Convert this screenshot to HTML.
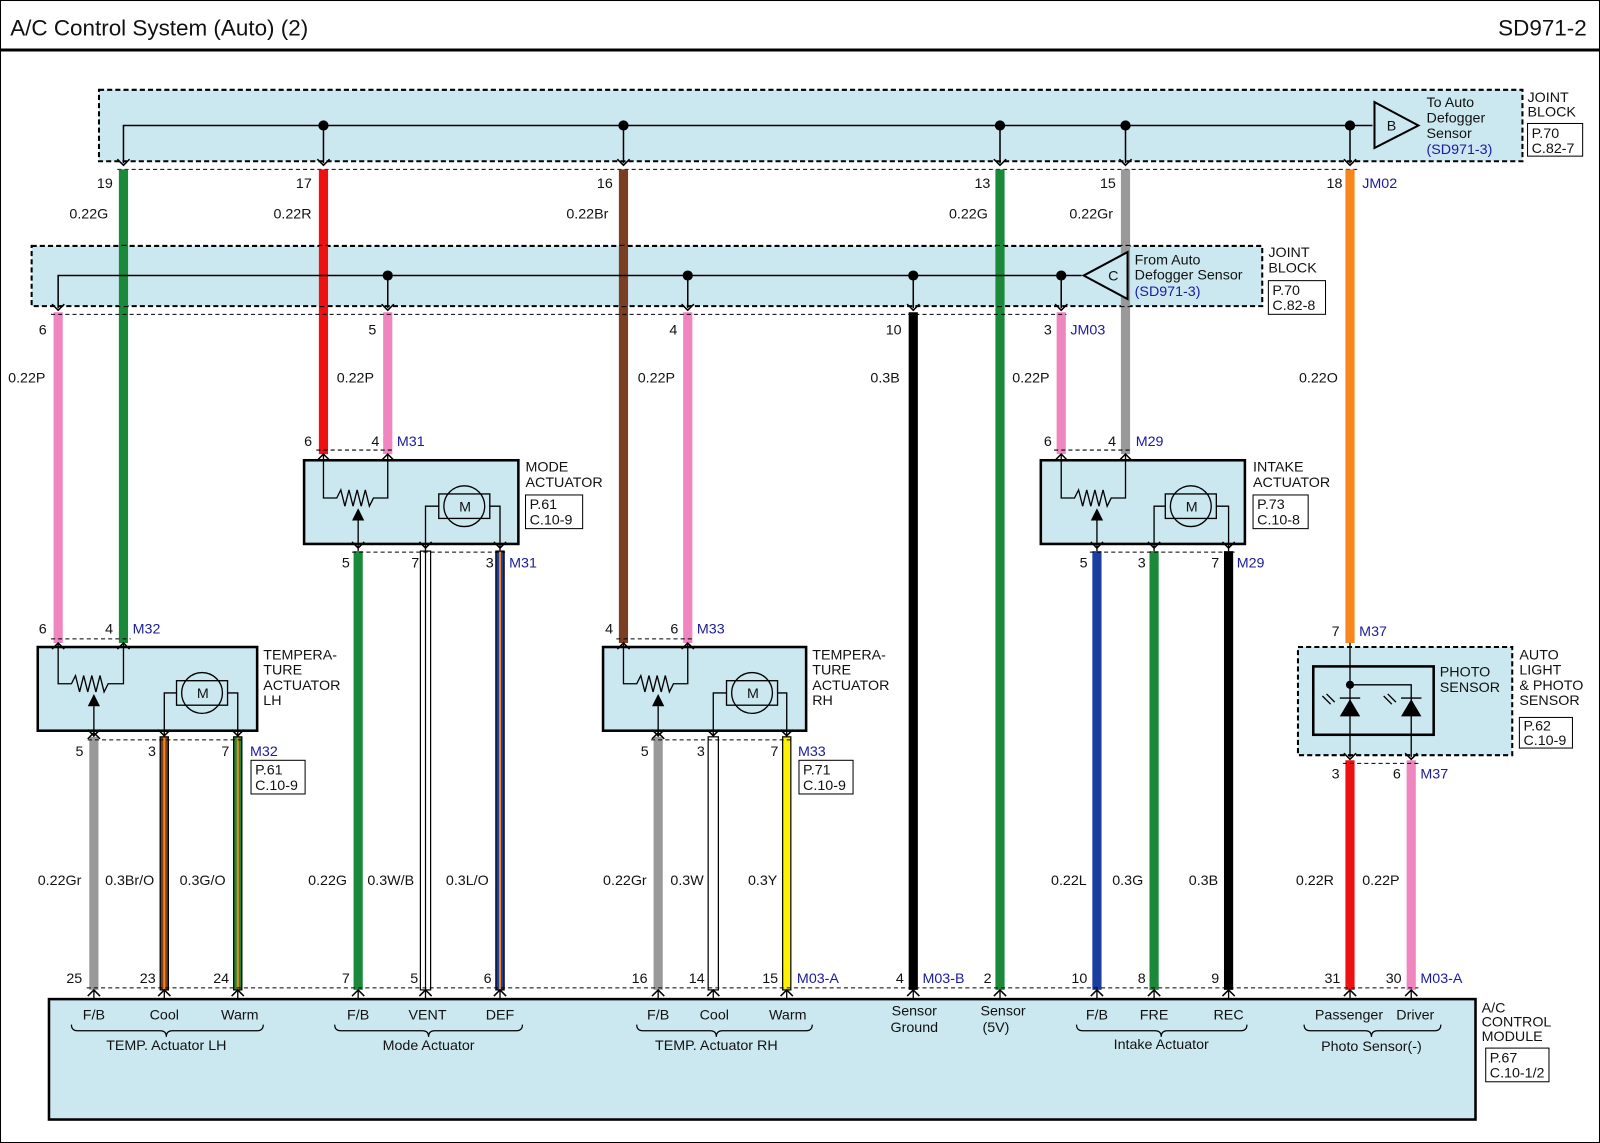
<!DOCTYPE html>
<html><head><meta charset="utf-8"><style>
html,body{margin:0;padding:0;background:#fff}
svg{display:block}
text{font-family:"Liberation Sans",sans-serif;font-size:14px;fill:#111}
.b{fill:#1a1aa0}
.blk{fill:#cbe8f0}
</style></head><body>
<svg width="1600" height="1143" viewBox="0 0 1568 1120" preserveAspectRatio="none" xmlns="http://www.w3.org/2000/svg">
<defs>
<path id="up" d="M-6,6 L0,0 L6,6" fill="none" stroke="#000" stroke-width="1.5"/>
<path id="dn" d="M-6,-6 L0,0 L6,-6" fill="none" stroke="#000" stroke-width="1.5"/>
</defs>
<rect x="0.5" y="0.5" width="1567" height="1119" fill="#fff" stroke="#000"/>
<text x="10" y="35" style="font-size:22px">A/C Control System (Auto) (2)</text>
<text x="1555" y="35" text-anchor="end" style="font-size:22px">SD971-2</text>
<line x1="0" y1="49" x2="1568" y2="49" stroke="#000" stroke-width="3"/>

<!-- Joint block top -->
<rect x="97" y="88" width="1395" height="70" class="blk" stroke="#000" stroke-width="2" stroke-dasharray="5,3"/>
<polyline points="121,160 121,123 1345,123" fill="none" stroke="#000" stroke-width="1.5"/>
<g stroke="#000" stroke-width="1.5">
<line x1="317" y1="123" x2="317" y2="160"/><line x1="611" y1="123" x2="611" y2="160"/>
<line x1="980" y1="123" x2="980" y2="160"/><line x1="1103" y1="123" x2="1103" y2="160"/>
<line x1="1323" y1="123" x2="1323" y2="160"/></g>
<g fill="#000"><circle cx="317" cy="123" r="5"/><circle cx="611" cy="123" r="5"/><circle cx="980" cy="123" r="5"/><circle cx="1103" cy="123" r="5"/><circle cx="1323" cy="123" r="5"/></g>
<polygon points="1347,100 1347,145 1390,123" fill="#cbe8f0" stroke="#000" stroke-width="2"/>
<text x="1359" y="128">B</text>
<text x="1398" y="105">To Auto</text><text x="1398" y="120">Defogger</text><text x="1398" y="135">Sensor</text><text x="1398" y="151" class="b">(SD971-3)</text>
<text x="1497" y="100">JOINT</text><text x="1497" y="114">BLOCK</text>
<rect x="1497" y="121" width="54" height="32" fill="#fff" stroke="#000"/>
<text x="1501" y="135">P.70</text><text x="1501" y="150">C.82-7</text>
<line x1="115" y1="166" x2="1330" y2="166" stroke="#000" stroke-dasharray="4,3"/>
<g><use href="#dn" x="121" y="162"/><use href="#dn" x="317" y="162"/><use href="#dn" x="611" y="162"/><use href="#dn" x="980" y="162"/><use href="#dn" x="1103" y="162"/><use href="#dn" x="1323" y="162"/></g>
<text x="95" y="184">19</text><text x="290" y="184">17</text><text x="585" y="184">16</text><text x="955" y="184">13</text><text x="1078" y="184">15</text><text x="1300" y="184">18</text><text x="1335" y="184" class="b">JM02</text>
<text x="68" y="214">0.22G</text><text x="268" y="214">0.22R</text><text x="555" y="214">0.22Br</text><text x="930" y="214">0.22G</text><text x="1048" y="214">0.22Gr</text>

<!-- wires -->
<g stroke-width="9">
<line x1="121" y1="166" x2="121" y2="630" stroke="#1a8a3a"/>
<line x1="317" y1="166" x2="317" y2="445" stroke="#ee1111"/>
<line x1="611" y1="166" x2="611" y2="630" stroke="#7a3e22"/>
<line x1="980" y1="166" x2="980" y2="970" stroke="#1a8a3a"/>
<line x1="1103" y1="166" x2="1103" y2="445" stroke="#999"/>
<line x1="1323" y1="166" x2="1323" y2="630" stroke="#f7861c"/>
<line x1="57" y1="306" x2="57" y2="630" stroke="#ef86c0"/>
<line x1="380" y1="306" x2="380" y2="445" stroke="#ef86c0"/>
<line x1="674" y1="306" x2="674" y2="630" stroke="#ef86c0"/>
<line x1="895" y1="306" x2="895" y2="970" stroke="#000"/>
<line x1="1040" y1="306" x2="1040" y2="445" stroke="#ef86c0"/>
<line x1="351" y1="540" x2="351" y2="970" stroke="#1a8a3a"/>
<line x1="490" y1="540" x2="490" y2="970" stroke="#1a3f9e"/>
<line x1="1075" y1="540" x2="1075" y2="970" stroke="#1a3f9e"/>
<line x1="1131" y1="540" x2="1131" y2="970" stroke="#1a8a3a"/>
<line x1="1204" y1="540" x2="1204" y2="970" stroke="#000"/>
<line x1="92" y1="722" x2="92" y2="970" stroke="#999"/>
<line x1="161" y1="722" x2="161" y2="970" stroke="#7a3e22"/>
<line x1="233" y1="722" x2="233" y2="970" stroke="#1a8a3a"/>
<line x1="645" y1="722" x2="645" y2="970" stroke="#999"/>
<line x1="771" y1="722" x2="771" y2="970" stroke="#fff200"/>
<line x1="1323" y1="745" x2="1323" y2="970" stroke="#ee1111"/>
<line x1="1383" y1="745" x2="1383" y2="970" stroke="#ef86c0"/>
</g>
<g stroke-width="2"><line x1="161" y1="722" x2="161" y2="970" stroke="#f7861c"/><line x1="233" y1="722" x2="233" y2="970" stroke="#f7861c"/><line x1="490" y1="540" x2="490" y2="970" stroke="#f7861c"/></g>
<g stroke="#000" stroke-width="1.2" fill="none">
<rect x="412" y="540" width="10" height="430" fill="#fff"/><line x1="417" y1="540" x2="417" y2="970"/>
<rect x="694" y="722" width="10" height="248" fill="#fff"/>
<rect x="486" y="540" width="8" height="430"/><rect x="157" y="722" width="8" height="248"/><rect x="229" y="722" width="8" height="248"/><rect x="767" y="722" width="8" height="248"/>
</g>

<!-- Joint block 2 -->
<rect x="31" y="241" width="1206" height="59" class="blk" stroke="#000" stroke-width="2" stroke-dasharray="5,3"/>
<g stroke-width="9"><line x1="121" y1="241" x2="121" y2="300" stroke="#1a8a3a"/><line x1="317" y1="241" x2="317" y2="300" stroke="#ee1111"/><line x1="611" y1="241" x2="611" y2="300" stroke="#7a3e22"/><line x1="980" y1="241" x2="980" y2="300" stroke="#1a8a3a"/><line x1="1103" y1="241" x2="1103" y2="300" stroke="#999"/></g>
<polyline points="57,302 57,270 1060,270" fill="none" stroke="#000" stroke-width="1.5"/>
<g stroke="#000" stroke-width="1.5"><line x1="380" y1="270" x2="380" y2="302"/><line x1="674" y1="270" x2="674" y2="302"/><line x1="895" y1="270" x2="895" y2="302"/><line x1="1040" y1="270" x2="1040" y2="302"/></g>
<g fill="#000"><circle cx="380" cy="270" r="5"/><circle cx="674" cy="270" r="5"/><circle cx="895" cy="270" r="5"/><circle cx="1040" cy="270" r="5"/></g>
<polygon points="1105,247 1105,293 1062,270" fill="#cbe8f0" stroke="#000" stroke-width="2"/>
<text x="1086" y="275">C</text>
<text x="1112" y="259">From Auto</text><text x="1112" y="274">Defogger Sensor</text><text x="1112" y="290" class="b">(SD971-3)</text>
<text x="1243" y="252">JOINT</text><text x="1243" y="267">BLOCK</text>
<rect x="1243" y="275" width="56" height="33" fill="#fff" stroke="#000"/>
<text x="1247" y="289">P.70</text><text x="1247" y="304">C.82-8</text>
<line x1="50" y1="308" x2="1045" y2="308" stroke="#000" stroke-dasharray="4,3"/>
<g><use href="#dn" x="57" y="304"/><use href="#dn" x="380" y="304"/><use href="#dn" x="674" y="304"/><use href="#dn" x="895" y="304"/><use href="#dn" x="1040" y="304"/></g>
<text x="38" y="328">6</text><text x="361" y="328">5</text><text x="656" y="328">4</text><text x="868" y="328">10</text><text x="1023" y="328">3</text><text x="1049" y="328" class="b">JM03</text>
<text x="8" y="375">0.22P</text><text x="330" y="375">0.22P</text><text x="625" y="375">0.22P</text><text x="853" y="375">0.3B</text><text x="992" y="375">0.22P</text><text x="1273" y="375">0.22O</text>

<!-- Mode actuator -->
<line x1="310" y1="441" x2="387" y2="441" stroke="#000" stroke-dasharray="4,3"/>
<text x="298" y="437">6</text><text x="364" y="437">4</text><text x="389" y="437" class="b">M31</text>
<rect x="298" y="451" width="210" height="82" class="blk" stroke="#000" stroke-width="2.5"/>
<g stroke="#000" stroke-width="1.3" fill="none">
<use href="#up" x="317" y="445"/><use href="#up" x="380" y="445"/>
<polyline points="317,445 317,488 330,488 334,480 338,496 342,480 346,496 350,480 354,496 358,480 362,496 366,488 380,488 380,445"/>
<line x1="351" y1="510" x2="351" y2="540"/>
<circle cx="455" cy="496" r="20"/><rect x="430" y="484" width="50" height="24"/>
<polyline points="430,496 417,496 417,540"/><polyline points="480,496 490,496 490,540"/>
</g>
<polygon points="345,510 357,510 351,498" fill="#000"/>
<text x="450" y="501">M</text>
<g><use href="#dn" x="351" y="537"/><use href="#dn" x="417" y="537"/><use href="#dn" x="490" y="537"/></g>
<line x1="345" y1="541" x2="495" y2="541" stroke="#000" stroke-dasharray="4,3"/>
<text x="335" y="556">5</text><text x="403" y="556">7</text><text x="476" y="556">3</text><text x="499" y="556" class="b">M31</text>
<text x="515" y="462">MODE</text><text x="515" y="477">ACTUATOR</text>
<rect x="515" y="485" width="56" height="33" fill="#fff" stroke="#000"/><text x="519" y="499">P.61</text><text x="519" y="514">C.10-9</text>

<!-- Intake actuator -->
<line x1="1033" y1="441" x2="1110" y2="441" stroke="#000" stroke-dasharray="4,3"/>
<text x="1023" y="437">6</text><text x="1086" y="437">4</text><text x="1113" y="437" class="b">M29</text>
<rect x="1020" y="451" width="200" height="82" class="blk" stroke="#000" stroke-width="2.5"/>
<g stroke="#000" stroke-width="1.3" fill="none">
<use href="#up" x="1040" y="445"/><use href="#up" x="1103" y="445"/>
<polyline points="1040,445 1040,488 1053,488 1057,480 1061,496 1065,480 1069,496 1073,480 1077,496 1081,480 1085,496 1089,488 1103,488 1103,445"/>
<line x1="1075" y1="510" x2="1075" y2="540"/>
<circle cx="1167" cy="496" r="20"/><rect x="1142" y="484" width="50" height="24"/>
<polyline points="1142,496 1131,496 1131,540"/><polyline points="1192,496 1204,496 1204,540"/>
</g>
<polygon points="1069,510 1081,510 1075,498" fill="#000"/>
<text x="1162" y="501">M</text>
<g><use href="#dn" x="1075" y="537"/><use href="#dn" x="1131" y="537"/><use href="#dn" x="1204" y="537"/></g>
<line x1="1068" y1="541" x2="1210" y2="541" stroke="#000" stroke-dasharray="4,3"/>
<text x="1058" y="556">5</text><text x="1115" y="556">3</text><text x="1187" y="556">7</text><text x="1212" y="556" class="b">M29</text>
<text x="1228" y="462">INTAKE</text><text x="1228" y="477">ACTUATOR</text>
<rect x="1228" y="485" width="54" height="33" fill="#fff" stroke="#000"/><text x="1232" y="499">P.73</text><text x="1232" y="514">C.10-8</text>

<!-- Temp LH -->
<line x1="50" y1="626" x2="128" y2="626" stroke="#000" stroke-dasharray="4,3"/>
<text x="38" y="621">6</text><text x="103" y="621">4</text><text x="130" y="621" class="b">M32</text>
<rect x="37" y="634" width="215" height="82" class="blk" stroke="#000" stroke-width="2.5"/>
<g stroke="#000" stroke-width="1.3" fill="none">
<use href="#up" x="57" y="630"/><use href="#up" x="121" y="630"/>
<polyline points="57,630 57,670 70,670 74,662 78,678 82,662 86,678 90,662 94,678 98,662 102,678 106,670 121,670 121,630"/>
<line x1="92" y1="692" x2="92" y2="722"/>
<circle cx="198" cy="679" r="20"/><rect x="173" y="667" width="50" height="24"/>
<polyline points="173,679 161,679 161,722"/><polyline points="223,679 233,679 233,722"/>
</g>
<polygon points="86,692 98,692 92,680" fill="#000"/><use href="#up" x="92" y="718"/>
<text x="193" y="684">M</text>
<g><use href="#dn" x="92" y="721"/><use href="#dn" x="161" y="721"/><use href="#dn" x="233" y="721"/></g>
<line x1="86" y1="725" x2="240" y2="725" stroke="#000" stroke-dasharray="4,3"/>
<text x="74" y="741">5</text><text x="145" y="741">3</text><text x="217" y="741">7</text><text x="245" y="741" class="b">M32</text>
<text x="258" y="646">TEMPERA-</text><text x="258" y="661">TURE</text><text x="258" y="676">ACTUATOR</text><text x="258" y="691">LH</text>
<rect x="246" y="745" width="53" height="33" fill="#fff" stroke="#000"/><text x="250" y="759">P.61</text><text x="250" y="774">C.10-9</text>

<!-- Temp RH -->
<line x1="604" y1="626" x2="681" y2="626" stroke="#000" stroke-dasharray="4,3"/>
<text x="593" y="621">4</text><text x="657" y="621">6</text><text x="683" y="621" class="b">M33</text>
<rect x="591" y="634" width="199" height="82" class="blk" stroke="#000" stroke-width="2.5"/>
<g stroke="#000" stroke-width="1.3" fill="none">
<use href="#up" x="611" y="630"/><use href="#up" x="674" y="630"/>
<polyline points="611,630 611,670 624,670 628,662 632,678 636,662 640,678 644,662 648,678 652,662 656,678 660,670 674,670 674,630"/>
<line x1="645" y1="692" x2="645" y2="722"/>
<circle cx="737" cy="679" r="20"/><rect x="712" y="667" width="50" height="24"/>
<polyline points="712,679 699,679 699,722"/><polyline points="762,679 771,679 771,722"/>
</g>
<polygon points="639,692 651,692 645,680" fill="#000"/><use href="#up" x="645" y="718"/>
<text x="732" y="684">M</text>
<g><use href="#dn" x="645" y="721"/><use href="#dn" x="699" y="721"/><use href="#dn" x="771" y="721"/></g>
<line x1="638" y1="725" x2="778" y2="725" stroke="#000" stroke-dasharray="4,3"/>
<text x="628" y="741">5</text><text x="683" y="741">3</text><text x="755" y="741">7</text><text x="782" y="741" class="b">M33</text>
<text x="796" y="646">TEMPERA-</text><text x="796" y="661">TURE</text><text x="796" y="676">ACTUATOR</text><text x="796" y="691">RH</text>
<rect x="783" y="745" width="53" height="33" fill="#fff" stroke="#000"/><text x="787" y="759">P.71</text><text x="787" y="774">C.10-9</text>

<!-- Photo sensor -->
<text x="1305" y="623">7</text><text x="1332" y="623" class="b">M37</text>
<rect x="1272" y="634" width="210" height="106" class="blk" stroke="#000" stroke-width="2" stroke-dasharray="5,3"/>
<rect x="1287" y="653" width="118" height="67" class="blk" stroke="#000" stroke-width="2.5"/>
<g stroke="#000" stroke-width="1.3" fill="none">
<line x1="1323" y1="630" x2="1323" y2="742"/><polyline points="1323,671 1383,671 1383,742"/>
<line x1="1313" y1="684" x2="1333" y2="684"/><line x1="1373" y1="684" x2="1393" y2="684"/>
<path d="M1296,682 l8,8 M1300,680 l8,8 M1356,682 l8,8 M1360,680 l8,8"/>
</g>
<circle cx="1323" cy="671" r="4" fill="#000"/>
<polygon points="1313,702 1333,702 1323,685" fill="#000"/><polygon points="1373,702 1393,702 1383,685" fill="#000"/>
<text x="1411" y="663">PHOTO</text><text x="1411" y="678">SENSOR</text>
<g><use href="#dn" x="1323" y="744"/><use href="#dn" x="1383" y="744"/></g>
<line x1="1316" y1="748" x2="1390" y2="748" stroke="#000" stroke-dasharray="4,3"/>
<text x="1305" y="763">3</text><text x="1365" y="763">6</text><text x="1392" y="763" class="b">M37</text>
<text x="1489" y="646">AUTO</text><text x="1489" y="661">LIGHT</text><text x="1489" y="676">&amp; PHOTO</text><text x="1489" y="691">SENSOR</text>
<rect x="1489" y="703" width="52" height="30" fill="#fff" stroke="#000"/><text x="1493" y="716">P.62</text><text x="1493" y="730">C.10-9</text>

<!-- lower labels -->
<text x="37" y="867">0.22Gr</text><text x="103" y="867">0.3Br/O</text><text x="176" y="867">0.3G/O</text>
<text x="302" y="867">0.22G</text><text x="360" y="867">0.3W/B</text><text x="437" y="867">0.3L/O</text>
<text x="591" y="867">0.22Gr</text><text x="657" y="867">0.3W</text><text x="733" y="867">0.3Y</text>
<text x="1030" y="867">0.22L</text><text x="1090" y="867">0.3G</text><text x="1165" y="867">0.3B</text>
<text x="1270" y="867">0.22R</text><text x="1335" y="867">0.22P</text>

<!-- bottom pins -->
<line x1="85" y1="968" x2="1390" y2="968" stroke="#000" stroke-dasharray="4,3"/>
<g><use href="#up" x="92" y="970"/><use href="#up" x="161" y="970"/><use href="#up" x="233" y="970"/><use href="#up" x="351" y="970"/><use href="#up" x="417" y="970"/><use href="#up" x="490" y="970"/><use href="#up" x="645" y="970"/><use href="#up" x="699" y="970"/><use href="#up" x="771" y="970"/><use href="#up" x="895" y="970"/><use href="#up" x="980" y="970"/><use href="#up" x="1075" y="970"/><use href="#up" x="1131" y="970"/><use href="#up" x="1204" y="970"/><use href="#up" x="1323" y="970"/><use href="#up" x="1383" y="970"/></g>
<g stroke="#000" stroke-width="1.3"><line x1="92" y1="970" x2="92" y2="979"/><line x1="161" y1="970" x2="161" y2="979"/><line x1="233" y1="970" x2="233" y2="979"/><line x1="351" y1="970" x2="351" y2="979"/><line x1="417" y1="970" x2="417" y2="979"/><line x1="490" y1="970" x2="490" y2="979"/><line x1="645" y1="970" x2="645" y2="979"/><line x1="699" y1="970" x2="699" y2="979"/><line x1="771" y1="970" x2="771" y2="979"/><line x1="895" y1="970" x2="895" y2="979"/><line x1="980" y1="970" x2="980" y2="979"/><line x1="1075" y1="970" x2="1075" y2="979"/><line x1="1131" y1="970" x2="1131" y2="979"/><line x1="1204" y1="970" x2="1204" y2="979"/><line x1="1323" y1="970" x2="1323" y2="979"/><line x1="1383" y1="970" x2="1383" y2="979"/></g>
<text x="65" y="963">25</text><text x="137" y="963">23</text><text x="209" y="963">24</text><text x="335" y="963">7</text><text x="402" y="963">5</text><text x="474" y="963">6</text>
<text x="619" y="963">16</text><text x="675" y="963">14</text><text x="747" y="963">15</text><text x="781" y="963" class="b">M03-A</text>
<text x="878" y="963">4</text><text x="904" y="963" class="b">M03-B</text><text x="964" y="963">2</text>
<text x="1050" y="963">10</text><text x="1115" y="963">8</text><text x="1187" y="963">9</text>
<text x="1298" y="963">31</text><text x="1358" y="963">30</text><text x="1392" y="963" class="b">M03-A</text>

<!-- Module -->
<rect x="48" y="979" width="1398" height="118" class="blk" stroke="#000" stroke-width="2.5"/>
<g text-anchor="middle">
<text x="92" y="999">F/B</text><text x="161" y="999">Cool</text><text x="235" y="999">Warm</text>
<text x="351" y="999">F/B</text><text x="419" y="999">VENT</text><text x="490" y="999">DEF</text>
<text x="645" y="999">F/B</text><text x="700" y="999">Cool</text><text x="772" y="999">Warm</text>
<text x="896" y="995">Sensor</text><text x="896" y="1011">Ground</text>
<text x="983" y="995">Sensor</text><text x="976" y="1011">(5V)</text>
<text x="1075" y="999">F/B</text><text x="1131" y="999">FRE</text><text x="1204" y="999">REC</text>
<text x="1322" y="999">Passenger</text><text x="1387" y="999">Driver</text>
<text x="163" y="1029">TEMP. Actuator LH</text><text x="420" y="1029">Mode Actuator</text><text x="702" y="1029">TEMP. Actuator RH</text>
<text x="1138" y="1028">Intake Actuator</text><text x="1344" y="1030">Photo Sensor(-)</text>
</g>
<g fill="none" stroke="#000" stroke-width="1.2">
<path d="M70,1004 q0,6 6,6 L157,1010 q6,0 6,6 q0,-6 6,-6 L252,1010 q6,0 6,-6"/>
<path d="M328,1004 q0,6 6,6 L414,1010 q6,0 6,6 q0,-6 6,-6 L506,1010 q6,0 6,-6"/>
<path d="M624,1004 q0,6 6,6 L696,1010 q6,0 6,6 q0,-6 6,-6 L790,1010 q6,0 6,-6"/>
<path d="M1055,1004 q0,6 6,6 L1132,1010 q6,0 6,6 q0,-6 6,-6 L1216,1010 q6,0 6,-6"/>
<path d="M1278,1004 q0,6 6,6 L1338,1010 q6,0 6,6 q0,-6 6,-6 L1406,1010 q6,0 6,-6"/>
</g>
<text x="1452" y="992">A/C</text><text x="1452" y="1006">CONTROL</text><text x="1452" y="1020">MODULE</text>
<rect x="1456" y="1027" width="62" height="33" fill="#fff" stroke="#000"/><text x="1460" y="1041">P.67</text><text x="1460" y="1056">C.10-1/2</text>
</svg>
</body></html>
